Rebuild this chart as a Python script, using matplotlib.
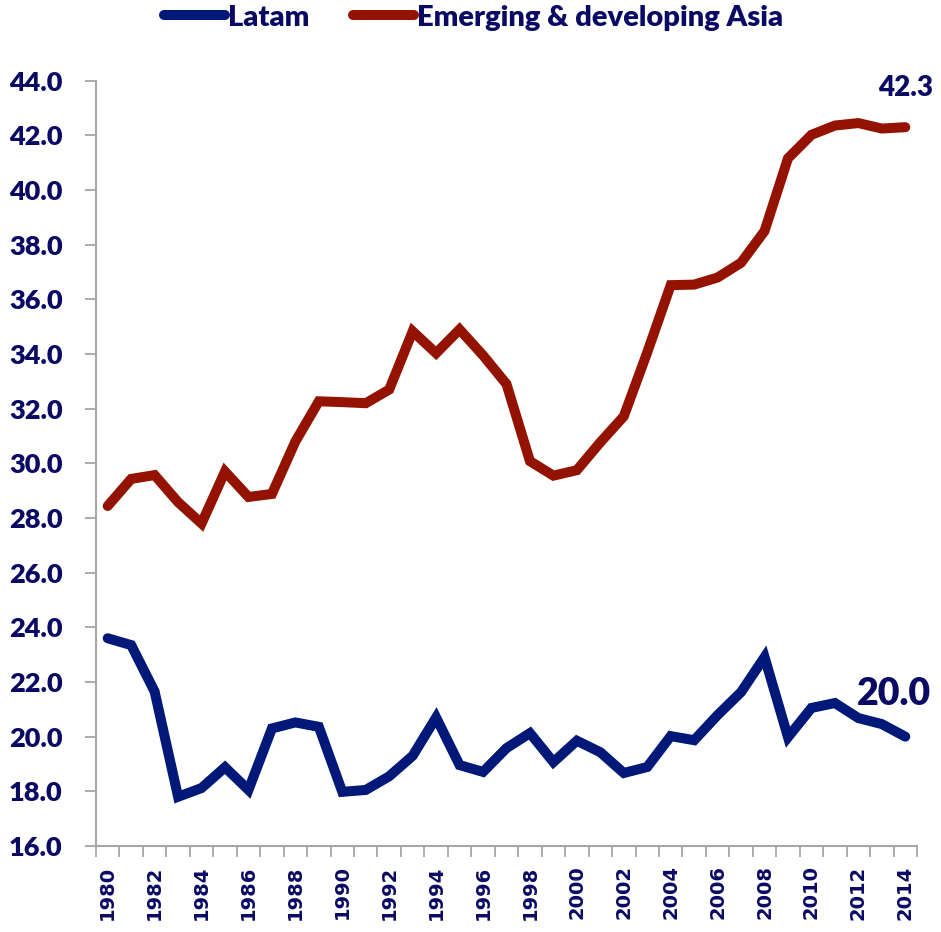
import matplotlib
matplotlib.use("Agg")
import matplotlib.pyplot as plt
import numpy as np

years = list(range(1980, 2015))

latam = [23.6, 23.35, 21.65, 17.8, 18.12, 18.88, 18.05, 20.3, 20.52, 20.36,
         17.98, 18.05, 18.55, 19.3, 20.7, 18.96, 18.71, 19.58, 20.13, 19.07,
         19.85, 19.43, 18.67, 18.89, 20.02, 19.87, 20.79, 21.63, 22.91, 19.98,
         21.05, 21.23, 20.68, 20.46, 20.0]

asia = [28.44, 29.43, 29.57, 28.58, 27.8, 29.7, 28.77, 28.88, 30.8, 32.27,
        32.24, 32.2, 32.7, 34.83, 34.03, 34.9, 33.95, 32.9, 30.08, 29.55,
        29.75, 30.77, 31.72, 34.06, 36.52, 36.54, 36.8, 37.34, 38.5, 41.16,
        42.02, 42.36, 42.45, 42.25, 42.3]

series_names = ["Latam", "Emerging & developing Asia"]
series_colors = ["#001878", "#941200"]
text_color = "#0a0a64"
axis_gray = "#a6a6a6"

plt.rcParams['font.family'] = ['Lato', 'DejaVu Sans']

fig = plt.figure(figsize=(9.41, 9.32), dpi=100)
ax = fig.add_axes([0.102, 0.0923, 0.8725, 0.8211])

x = np.arange(len(years))
l1, = ax.plot(x, latam, color=series_colors[0], lw=7.2, solid_joinstyle='miter',
              solid_capstyle='round', label=series_names[0])
l2, = ax.plot(x, asia, color=series_colors[1], lw=7.2, solid_joinstyle='miter',
              solid_capstyle='round', label=series_names[1])

ax.set_xlim(-0.5, len(years) - 0.5)
ax.set_ylim(16, 44)
yt = np.arange(16, 44.1, 2)
ax.set_yticks(yt)
ax.set_yticklabels([f"{v:.1f}" for v in yt], fontsize=19.5, fontweight='heavy',
                   color=text_color)

# year labels on every other category, ticks on category edges
ax.set_xticks(x[::2])
ax.set_xticklabels([str(y) for y in years[::2]], rotation=90, fontsize=14,
                   fontweight='bold', color=text_color, family='DejaVu Sans')
ax.set_xticks(np.arange(-0.5, len(years)), minor=True)
ax.tick_params(axis='x', which='major', length=0, pad=14)
ax.tick_params(axis='x', which='minor', length=8, width=1.3, color=axis_gray, direction='out')
ax.tick_params(axis='y', length=8, width=1.3, color=axis_gray, pad=16)

for s in ['top', 'right']:
    ax.spines[s].set_visible(False)
for s in ['left', 'bottom']:
    ax.spines[s].set_color(axis_gray)
    ax.spines[s].set_linewidth(1.5)

ax.text(34, 43.73, f"{asia[-1]:.1f}", ha='center', va='center', fontsize=20,
        fontweight='heavy', color=text_color, clip_on=False)
ax.text(33.5, 21.55, f"{latam[-1]:.1f}", ha='center', va='center', fontsize=27,
        fontweight='heavy', color=text_color, clip_on=False)

leg = fig.legend(handles=[l1, l2], loc='center', bbox_to_anchor=(0.503, 0.981),
                 ncol=2, frameon=False, fontsize=21, handlelength=2.1,
                 handletextpad=0.1, columnspacing=1.5)
for t in leg.get_texts():
    t.set_color(text_color)
    t.set_fontweight('heavy')

fig.savefig("out.png", dpi=100)
